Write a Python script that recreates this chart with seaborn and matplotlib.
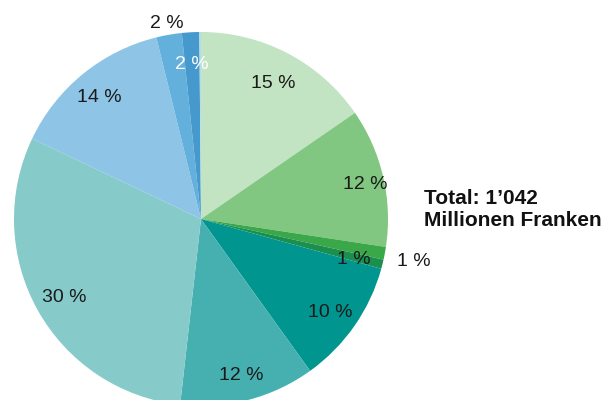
import matplotlib
matplotlib.use("Agg")
import matplotlib.pyplot as plt
import seaborn as sns
import numpy as np

sns.set_theme(style="white")
plt.rcParams['font.family'] = ['Liberation Sans', 'DejaVu Sans']

# Data (shares in percent, clockwise from top)
values = [15.4, 12.0, 1.1, 0.8, 10.8, 11.7, 30.3, 14.1, 2.2, 1.5, 0.14]
labels = ["15 %", "12 %", "1 %", "1 %", "10 %", "12 %", "30 %", "14 %", "2 %", "2 %", ""]
colors = ["#c2e4c2", "#81c781", "#3aa848", "#1b8f4e", "#00958f", "#46b0b1",
          "#86caca", "#8ec4e6", "#63b0dd", "#4699cc", "#b4dcef"]
label_radius = [0.835, 0.90, 1.16, 0.84, 0.845, 0.85, 0.835, 0.86, 1.08, 0.845, 0.0]
label_colors = ["#1a1a1a"] * 9 + ["white", "white"]
total_text = "Total: 1\u2019042\nMillionen Franken"

fig = plt.figure(figsize=(6.16, 4.0), dpi=100)
ax = fig.add_axes([0, 0, 1, 1])
R = 187
cx, cy = 201, 400 - 219
wedges, _ = ax.pie(values, colors=colors, startangle=90, counterclock=False,
                   radius=R, center=(cx, cy), frame=True,
                   wedgeprops=dict(linewidth=0))
ax.set_xlim(0, 616)
ax.set_ylim(0, 400)
ax.set_aspect("equal")
ax.axis("off")

for w, lab, lr, lc in zip(wedges, labels, label_radius, label_colors):
    if not lab:
        continue
    ang = np.deg2rad((w.theta1 + w.theta2) / 2)
    x = cx + lr * R * np.cos(ang)
    y = cy + lr * R * np.sin(ang) - 3
    ax.text(x, y, lab, ha="center", va="center", fontsize=14, color=lc)

ax.text(424, 400 - 210, total_text, ha="left", va="center", fontsize=15,
        fontweight="bold", color="#111111", linespacing=1.2)

fig.savefig("out.png", dpi=100)
